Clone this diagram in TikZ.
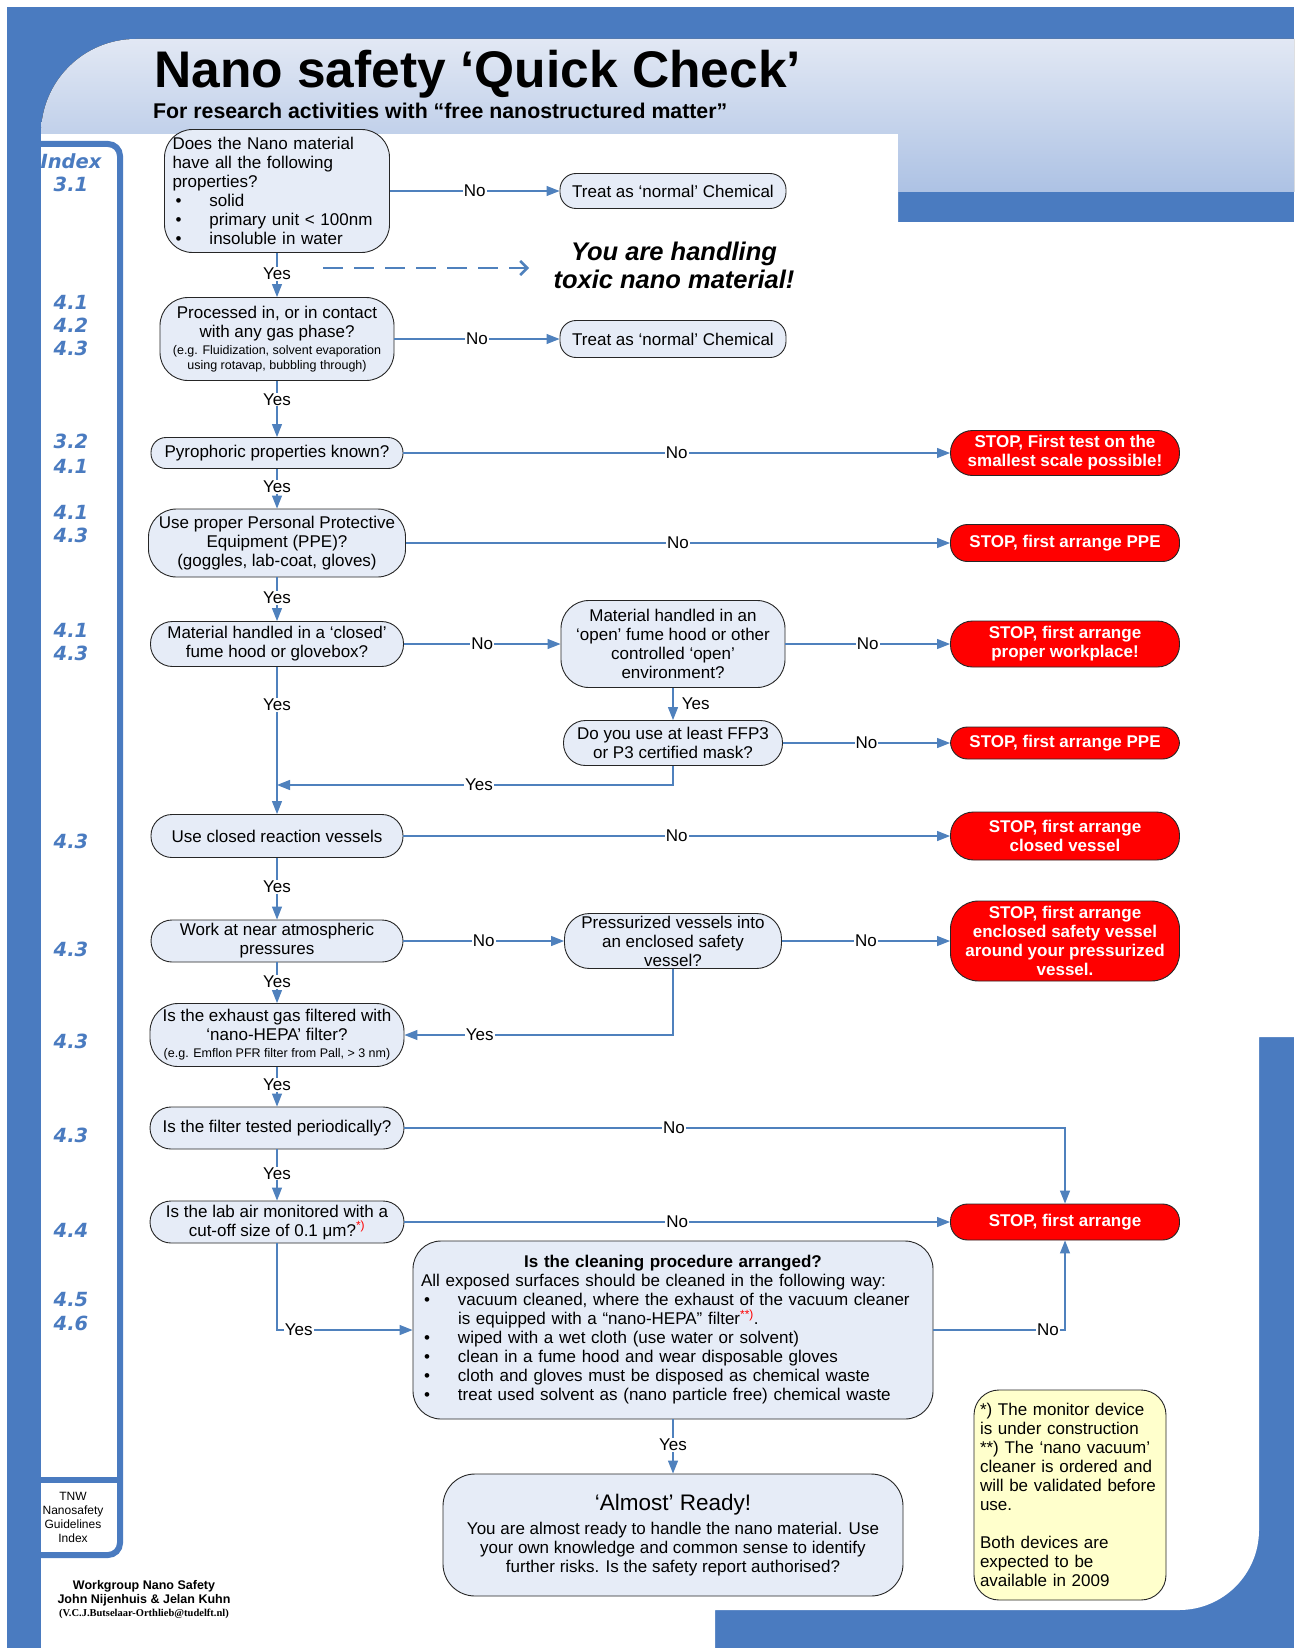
\documentclass[tikz,border=0pt]{standalone}
\usepackage{fontspec}
\setmainfont{Liberation Sans}
\newfontfamily\idxfont{DejaVu Sans}
\newfontfamily\mailfont{Liberation Serif}
\usetikzlibrary{arrows.meta}

\definecolor{frameblue}{HTML}{4A7BC0}
\definecolor{lineblue}{HTML}{4F81BD}
\definecolor{boxfill}{HTML}{E6ECF7}
\definecolor{headtop}{HTML}{E2E8F4}
\definecolor{headbot}{HTML}{ADC2E4}
\definecolor{stopred}{HTML}{FF0000}
\definecolor{notefill}{HTML}{FFFFCC}

\newcommand\qtxt{\fontsize{17}{19}\selectfont}
\newcommand\smalltxt{\fontsize{12.5}{14.5}\selectfont}
\newcommand\bul{\makebox[37pt][l]{\hspace{3pt}\textbullet}}

\begin{document}
\begin{tikzpicture}[x=1pt,y=-1pt,
  qbox/.style={draw=black!85,line width=0.9pt,fill=boxfill,rounded corners=#1,
    align=center,inner sep=0pt,font=\qtxt},
  qbox/.default=16pt,
  stopbox/.style={draw=black!85,line width=0.9pt,fill=stopred,text=white,
    rounded corners=#1,align=center,inner sep=0pt,font=\qtxt\bfseries},
  stopbox/.default=17pt,
  conn/.style={draw=lineblue,line width=1.2pt,-{Triangle[length=13pt,width=10pt]}},
  lbl/.style={fill=white,inner sep=1pt,font=\qtxt},
  idx/.style={text=frameblue,font=\idxfont\fontsize{19.5}{22}\selectfont\bfseries\itshape}]

  \path[use as bounding box] (0,0) rectangle (1301,1648);
  \fill[white] (0,0) rectangle (1301,1648);
  \fill[frameblue] (7,7) rectangle (1294,1648);
  \fill[white] (41,134) -- (898,134) -- (898,222) -- (1294,222) -- (1294,1037)
    -- (1259,1037) -- (1259,1530) arc[start angle=0,end angle=90,radius=80]
    -- (715,1610) -- (715,1648) -- (41,1648) -- cycle;
  \fill[top color=headtop,bottom color=headbot] (41,134)
    arc[start angle=180,end angle=270,radius=95] -- (1294,39) -- (1294,192)
    -- (898,192) -- (898,134) -- cycle;

  \draw[frameblue,line width=6pt,rounded corners=12pt] (38,144) -- (120,144) -- (120,1555) -- (38,1555);
  \draw[frameblue,line width=6pt] (38,1480) -- (120,1480);
  \foreach \ypos/\ilabel in {161/Index,184/3.1,302/4.1,325/4.2,348/4.3,441/3.2,466/4.1,
      512/4.1,535/4.3,630/4.1,653/4.3,841/4.3,949/4.3,1041/4.3,1135/4.3,1230/4.4,
      1300/4.5,1323/4.6}
    \node[idx] at (71,\ypos) {\ilabel};
  \node[font=\fontsize{12}{14}\selectfont,align=center] (tnw) at (73,1517)
    {TNW\\ Nanosafety\\ Guidelines\\ Index};
  \node[font=\fontsize{12.5}{13.5}\selectfont\bfseries,align=center] (credits) at (144,1600)
    {Workgroup Nano Safety\\ John Nijenhuis \& Jelan Kuhn\\
     {\mailfont\fontsize{10.5}{11}\selectfont (V.C.J.Butselaar-Orthlieb@tudelft.nl)}};

  \node[anchor=base west,inner sep=0pt,font=\fontsize{51.5}{56}\selectfont\bfseries] (title)
    at (154,88) {Nano safety ‘Quick Check’};
  \node[anchor=base west,inner sep=0pt,font=\fontsize{21.3}{24}\selectfont\bfseries] (subtitle)
    at (153,119) {For research activities with “free nanostructured matter”};

  \node[qbox=28pt,minimum width=225pt,minimum height=123pt,text width=209pt,
    align=left,inner xsep=8pt] (n1) at (277,191)
    {Does the Nano material\\ have all the following\\ properties?\\ \bul solid\\
     \bul primary unit < 100nm\\ \bul insoluble in water};
  \node[qbox,minimum width=226pt,minimum height=35pt] (t1) at (673,191)
    {Treat as ‘normal’ Chemical};
  \node[font=\fontsize{25.5}{28}\selectfont\bfseries\itshape,align=center] (warn)
    at (674,265) {You are handling\\ toxic nano material!};
  \coordinate (dashA) at (323,268);
  \coordinate (dashB) at (529,268);
  \draw[lineblue,line width=2.5pt,dash pattern=on 20pt off 11pt,
    -{Straight Barb[length=7pt,width=14pt]}] (dashA) -- (dashB);

  \node[qbox=28pt,minimum width=234pt,minimum height=83pt] (n2) at (277,339)
    {Processed in, or in contact\\ with any gas phase?\\[-2pt]
     {\smalltxt (e.g. Fluidization, solvent evaporation}\\[-4.5pt]
     {\smalltxt using rotavap, bubbling through)}};
  \node[qbox,minimum width=226pt,minimum height=37pt] (t2) at (673,339)
    {Treat as ‘normal’ Chemical};

  \node[qbox=15pt,minimum width=252pt,minimum height=31pt] (n3) at (277,453)
    {Pyrophoric properties known?};
  \node[stopbox=22pt,minimum width=229pt,minimum height=45pt] (s1) at (1065,453)
    {STOP, First test on the\\ smallest scale possible!};

  \node[qbox=28pt,minimum width=257pt,minimum height=68pt] (n4) at (277,543)
    {Use proper Personal Protective\\ Equipment (PPE)?\\ (goggles, lab-coat, gloves)};
  \node[stopbox,minimum width=229pt,minimum height=37pt] (s2) at (1065,543)
    {STOP, first arrange PPE};

  \node[qbox=22pt,minimum width=253pt,minimum height=45pt] (n5) at (277,644)
    {Material handled in a ‘closed’\\ fume hood or glovebox?};
  \node[qbox=28pt,minimum width=224pt,minimum height=87pt] (n6) at (673,644)
    {Material handled in an\\ ‘open’ fume hood or other\\ controlled ‘open’\\ environment?};
  \node[stopbox=22pt,minimum width=229pt,minimum height=46pt] (s3) at (1065,644)
    {STOP, first arrange\\ proper workplace!};

  \node[qbox=22pt,minimum width=219pt,minimum height=45pt] (n7) at (673,743)
    {Do you use at least FFP3\\ or P3 certified mask?};
  \node[stopbox,minimum width=229pt,minimum height=32pt] (s4) at (1065,743)
    {STOP, first arrange PPE};
  \coordinate (j1) at (277,785);

  \node[qbox=21pt,minimum width=252pt,minimum height=43pt] (n8) at (277,836)
    {Use closed reaction vessels};
  \node[stopbox=23pt,minimum width=229pt,minimum height=48pt] (s5) at (1065,836)
    {STOP, first arrange\\ closed vessel};

  \node[qbox=21pt,minimum width=252pt,minimum height=42pt] (n9) at (277,941)
    {Work at near atmospheric\\ pressures};
  \node[qbox=25pt,minimum width=217pt,minimum height=55pt] (n10) at (673,941)
    {Pressurized vessels into\\ an enclosed safety\\ vessel?};
  \node[stopbox=28pt,minimum width=229pt,minimum height=80pt] (s6) at (1065,941)
    {STOP, first arrange\\ enclosed safety vessel\\ around your pressurized\\ vessel.};

  \node[qbox=28pt,minimum width=254pt,minimum height=63pt] (n11) at (277,1035)
    {Is the exhaust gas filtered with\\ ‘nano-HEPA’ filter?\\[-2pt]
     {\smalltxt (e.g. Emflon PFR filter from Pall, > 3 nm)}};
  \node[qbox=21pt,minimum width=254pt,minimum height=42pt] (n12) at (277,1128)
    {Is the filter tested periodically?};
  \node[qbox=21pt,minimum width=254pt,minimum height=42pt] (n13) at (277,1222)
    {Is the lab air monitored with a\\ cut-off size of 0.1 μm?\textsuperscript{\color{red}*)}};
  \node[stopbox,minimum width=229pt,minimum height=36pt] (s7) at (1065,1222)
    {STOP, first arrange};

  \node[qbox=28pt,minimum width=520pt,minimum height=178pt,text width=504pt,
    align=left,inner xsep=8pt] (n14) at (673,1330)
    {\makebox[\hsize]{\bfseries Is the cleaning procedure arranged?}\\
     All exposed surfaces should be cleaned in the following way:\\
     \bul vacuum cleaned, where the exhaust of the vacuum cleaner\\
     \hspace*{37pt}is equipped with a “nano-HEPA” filter\textsuperscript{\color{red}**)}.\\
     \bul wiped with a wet cloth (use water or solvent)\\
     \bul clean in a fume hood and wear disposable gloves\\
     \bul cloth and gloves must be disposed as chemical waste\\
     \bul treat used solvent as (nano particle free) chemical waste};

  \node[qbox=32pt,minimum width=460pt,minimum height=122pt] (n15) at (673,1535)
    {{\fontsize{22.5}{26}\selectfont ‘Almost’ Ready!}\\[5pt]
     You are almost ready to handle the nano material. Use\\
     your own knowledge and common sense to identify\\
     further risks. Is the safety report authorised?};

  \node[qbox=25pt,fill=notefill,minimum height=210pt,text width=180pt,align=left,
    inner xsep=6pt] (notes) at (1070,1495)
    {*) The monitor device\\ is under construction\\ {}**) The ‘nano vacuum’\\
     cleaner is ordered and\\ will be validated before\\ use.\\[19pt]
     Both devices are\\ expected to be\\ available in 2009};

  \draw[conn] (n1) -- node[lbl]{No} (t1);
  \draw[conn] (n1) -- node[lbl,pos=0.48]{Yes} (n2);
  \draw[conn] (n2) -- node[lbl]{No} (t2);
  \draw[conn] (n2) -- node[lbl,pos=0.33]{Yes} (n3);
  \draw[conn] (n3) -- node[lbl]{No} (s1);
  \draw[conn] (n3) -- node[lbl,pos=0.45]{Yes} (n4);
  \draw[conn] (n4) -- node[lbl]{No} (s2);
  \draw[conn] (n4) -- node[lbl,pos=0.47]{Yes} (n5);
  \draw[conn] (n5) -- node[lbl]{No} (n6);
  \draw[conn] (n6) -- node[lbl]{No} (s3);
  \draw[conn] (n6) -- node[right=5pt,font=\qtxt]{Yes} (n7);
  \draw[conn] (n7) -- node[lbl]{No} (s4);
  \draw[conn] (n7) |- node[lbl,pos=0.745]{Yes} (j1);
  \draw[conn] (n5) -- node[lbl,pos=0.26]{Yes} (n8);
  \draw[conn] (n8) -- node[lbl]{No} (s5);
  \draw[conn] (n8) -- node[lbl,pos=0.47]{Yes} (n9);
  \draw[conn] (n9) -- node[lbl]{No} (n10);
  \draw[conn] (n10) -- node[lbl]{No} (s6);
  \draw[conn] (n10) |- node[lbl,pos=0.86]{Yes} (n11);
  \draw[conn] (n9) -- node[lbl,pos=0.48]{Yes} (n11);
  \draw[conn] (n11) -- node[lbl,pos=0.45]{Yes} (n12);
  \draw[conn] (n12) -| node[lbl,pos=0.204]{No} (s7);
  \draw[conn] (n12) -- node[lbl,pos=0.47]{Yes} (n13);
  \draw[conn] (n13) -- node[lbl]{No} (s7);
  \draw[conn] (n13) |- node[lbl,pos=0.58]{Yes} (n14);
  \draw[conn] (n14) -| node[lbl,pos=0.435]{No} (s7);
  \draw[conn] (n14) -- node[lbl,pos=0.47]{Yes} (n15);
\end{tikzpicture}
\end{document}
